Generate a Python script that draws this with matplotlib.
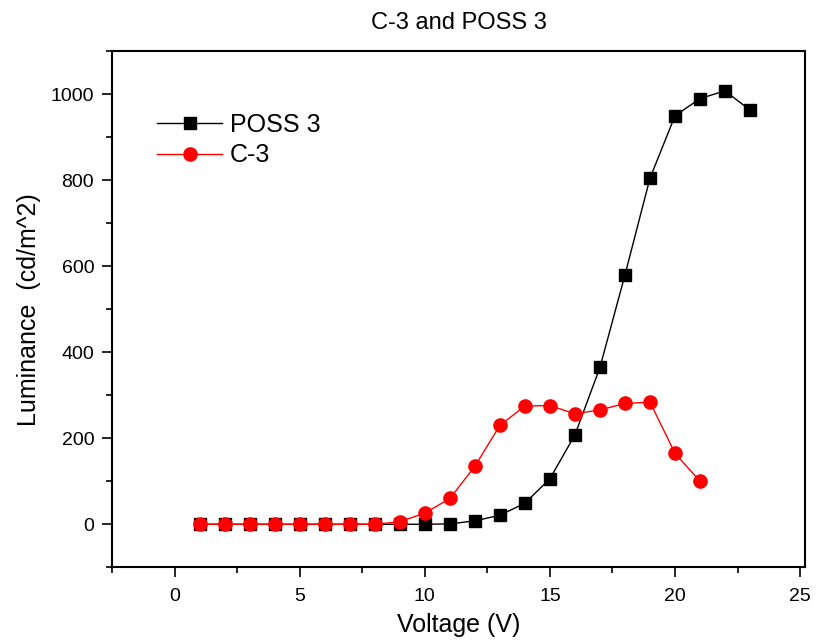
import numpy as np
import matplotlib.pyplot as plt
from matplotlib.ticker import MultipleLocator

plt.rcParams['font.family'] = ['Liberation Sans', 'DejaVu Sans']

# Data
voltage_poss = [1, 2, 3, 4, 5, 6, 7, 8, 9, 10, 11, 12, 13, 14, 15, 16, 17, 18, 19, 20, 21, 22, 23]
lum_poss = [0, 0, 0, 0, 0, 0, 0, 0, 0, 0, 1, 8, 21, 49, 106, 208, 365, 580, 805, 950, 990, 1008, 963]
voltage_c3 = [1, 2, 3, 4, 5, 6, 7, 8, 9, 10, 11, 12, 13, 14, 15, 16, 17, 18, 19, 20, 21]
lum_c3 = [0, 0, 0, 0, 0, 0, 0, 0, 6, 26, 60, 135, 230, 275, 276, 257, 266, 281, 284, 165, 100]

fig = plt.figure(figsize=(8.19, 6.41), dpi=100)
ax = fig.add_axes([0.137, 0.115, 0.846, 0.805])

ax.plot(voltage_poss, lum_poss, color='black', lw=1, marker='s', ms=8, label='POSS 3')
ax.plot(voltage_c3, lum_c3, color='red', lw=1, marker='o', ms=9.5, label='C-3')

ax.set_xlim(-2.5, 25.2)
ax.set_ylim(-100, 1100)
ax.xaxis.set_major_locator(MultipleLocator(5))
ax.xaxis.set_minor_locator(MultipleLocator(2.5))
ax.yaxis.set_major_locator(MultipleLocator(200))
ax.yaxis.set_minor_locator(MultipleLocator(100))
ax.tick_params(which='major', direction='out', length=7, width=1.2, labelsize=14, pad=6)
ax.tick_params(axis='x', which='major', pad=8)
ax.tick_params(which='minor', direction='out', length=4, width=1.2)
for s in ax.spines.values():
    s.set_linewidth(1.5)

ax.set_xlabel('Voltage (V)', fontsize=18, labelpad=6)
ax.set_ylabel('Luminance  (cd/m^2)', fontsize=18, labelpad=7)
ax.set_title('C-3 and POSS 3', fontsize=17, pad=16)

ax.legend(loc='upper left', bbox_to_anchor=(0.065, 0.88), frameon=False,
          borderaxespad=0, borderpad=0,
          fontsize=18, handlelength=2.6, handletextpad=0.3, labelspacing=0.25)

plt.savefig('out.png', dpi=100)
